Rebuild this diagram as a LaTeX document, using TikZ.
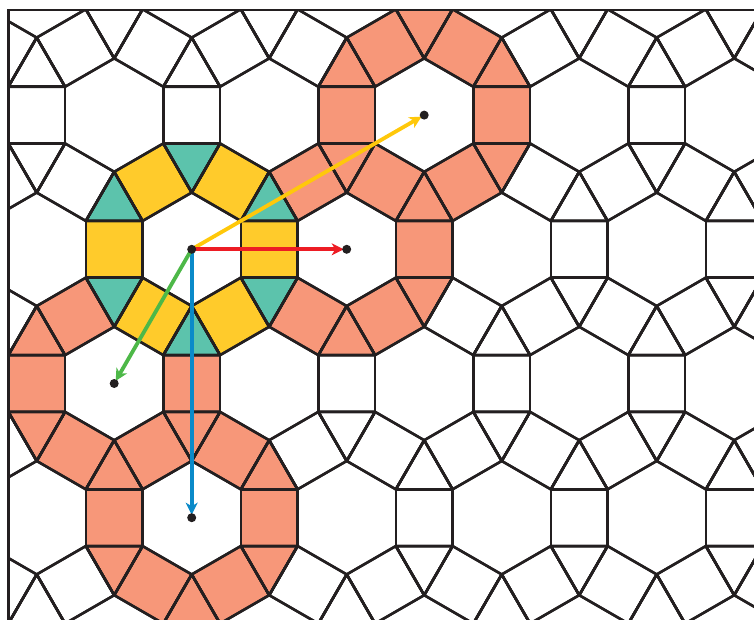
\documentclass[tikz,border=0pt]{standalone}
\usepackage{tikz}
\usetikzlibrary{arrows.meta}
\usepackage{xcolor}
\definecolor{tileink}{RGB}{35,31,32}
\definecolor{ringorange}{RGB}{247,151,121}
\definecolor{ringyellow}{RGB}{255,203,43}
\definecolor{ringgreen}{RGB}{92,195,172}
\definecolor{vecred}{RGB}{237,28,36}
\definecolor{vecyellow}{RGB}{255,200,10}
\definecolor{vecgreen}{RGB}{77,184,72}
\definecolor{vecblue}{RGB}{10,138,201}
\tikzset{
  tileline/.style={draw=tileink,line width=2.5pt,line join=round},
  vecline/.style={line width=3.8pt,-{Stealth[length=12pt,width=12pt,inset=3.5pt]},shorten >=3pt},
  latdot/.style={circle,fill=tileink,inner sep=0pt,minimum size=9pt}
}
\newcommand{\ringfill}[3]{%
  \foreach \k in {0,...,5} {
    \begin{scope}[shift={#1},rotate=\k*60]
      \fill[#2] (\ap,-\sd/2) rectangle (\ap+\sd,\sd/2);
      \fill[#3] (\ap,\sd/2) -- (\ap+\sd,\sd/2) -- (\ap+\sd/2,\sd/2+\ap) -- cycle;
    \end{scope}
  }}
\begin{document}
\begin{tikzpicture}[x=1pt,y=1pt]
        \def\sd{56.73}
        \def\ap{49.13}
        \def\ox{191.7}
        \def\oy{369.7}
        \def\lx{155}
        \def\ly{134.2}
        \useasboundingbox (0,0) rectangle (754,619);
        \coordinate (hexO) at (\ox,\oy);
        \coordinate (hexE) at (\ox+\lx,\oy);
        \coordinate (hexN) at (\ox+1.5*\lx,\oy+\ly);
        \coordinate (hexW) at (\ox-0.5*\lx,\oy-\ly);
        \coordinate (hexS) at (\ox,\oy-2*\ly);
        \begin{scope}
          \clip (8.5,0) rectangle (754,609);
          \ringfill{(hexE)}{ringorange}{ringorange}
          \ringfill{(hexN)}{ringorange}{ringorange}
          \ringfill{(hexW)}{ringorange}{ringorange}
          \ringfill{(hexS)}{ringorange}{ringorange}
          \ringfill{(hexO)}{ringyellow}{ringgreen}
          \foreach \j in {-2,...,3}
            \foreach \i in {-4,...,6}
              \foreach \k in {0,...,5} {
                \begin{scope}[shift={(\ox+\i*\lx+\j*\lx/2,\oy-\j*\ly)},rotate=\k*60]
                  \draw[tileline] (\ap,-\sd/2) rectangle (\ap+\sd,\sd/2);
                  \draw[tileline] (\ap,\sd/2) -- (\ap+\sd,\sd/2) -- (\ap+\sd/2,\sd/2+\ap) -- cycle;
                \end{scope}
              }
        \end{scope}
        \draw[tileink,line width=2.8pt,line cap=rect] (8.5,0) -- (8.5,609) -- (754,609);
        \draw[vecline,vecblue] (hexO) -- (hexS);
        \draw[vecline,vecgreen] (hexO) -- (hexW);
        \draw[vecline,vecyellow] (hexO) -- (hexN);
        \draw[vecline,vecred] (hexO) -- (hexE);
        \foreach \c in {O,E,N,W,S}
          \node[latdot] (dot\c) at (hex\c) {};
      \end{tikzpicture}
\end{document}
